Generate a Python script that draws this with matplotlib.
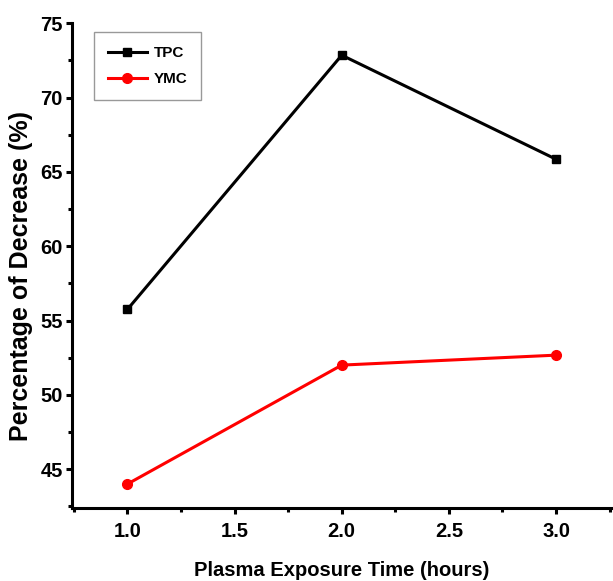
import numpy as np
import matplotlib.pyplot as plt
from matplotlib.ticker import MultipleLocator

plt.rcParams['font.family'] = ['Liberation Sans', 'DejaVu Sans']
plt.rcParams['font.weight'] = 'bold'

time_h = [1.0, 2.0, 3.0]
tpc = [55.75, 72.85, 65.85]
ymc = [44.0, 52.0, 52.67]

fig = plt.figure(figsize=(6.13, 5.81), dpi=100)
ax = fig.add_axes([0.117, 0.126, 0.881, 0.834])

ax.plot(time_h, tpc, color="black", lw=2.2, marker="s", ms=6, label="TPC")
ax.plot(time_h, ymc, color="red", lw=2.2, marker="o", ms=7, label="YMC")

ax.set_xlim(0.74, 3.26)
ax.set_ylim(42.4, 75)
ax.xaxis.set_major_locator(MultipleLocator(0.5))
ax.xaxis.set_minor_locator(MultipleLocator(0.25))
ax.yaxis.set_major_locator(MultipleLocator(5))
ax.yaxis.set_minor_locator(MultipleLocator(2.5))
ax.xaxis.set_major_formatter(plt.FormatStrFormatter("%.1f"))

for side in ["top", "right"]:
    ax.spines[side].set_visible(False)
for side in ["left", "bottom"]:
    ax.spines[side].set_linewidth(2.2)

ax.tick_params(which="major", direction="out", length=4.5, width=2.2, labelsize=14.5)
ax.tick_params(which="minor", direction="out", length=3, width=2.2)
ax.tick_params(axis="y", pad=2)
ax.tick_params(axis="x", pad=6)

ax.set_xlabel("Plasma Exposure Time (hours)", fontsize=14.5, fontweight="bold", labelpad=14)
ax.set_ylabel("Percentage of Decrease (%)", fontsize=18, fontweight="bold")
ax.yaxis.set_label_coords(-0.072, 0.478)

leg = ax.legend(loc="upper left", bbox_to_anchor=(0.041, 0.981), borderaxespad=0,
                fancybox=False, edgecolor="gray", fontsize=11, handlelength=2.6,
                handletextpad=0.4, borderpad=0.9, labelspacing=0.8)
leg.get_frame().set_linewidth(1)

fig.savefig("out.png", dpi=100)
